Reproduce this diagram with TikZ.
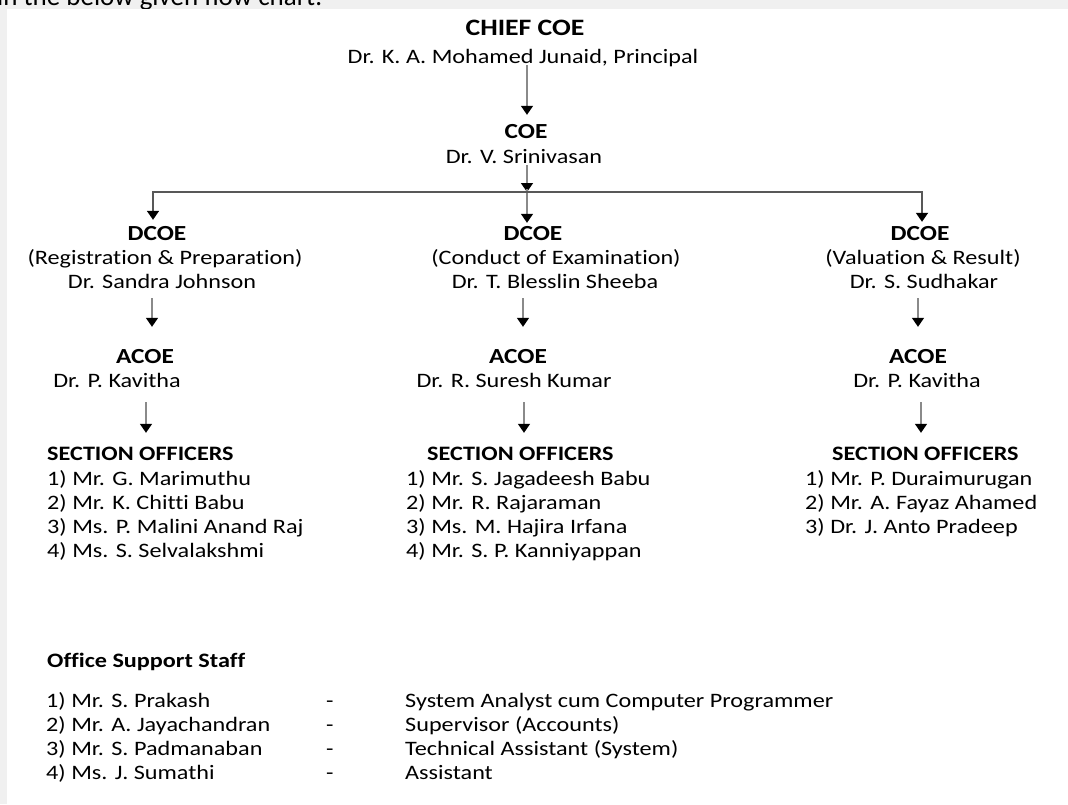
\documentclass[tikz,border=0pt]{standalone}
\usepackage{fontspec}
\setmainfont{Carlito}[FakeStretch=1.18, Ligatures=NoCommon]
\newfontfamily\pagefont{Carlito}[Ligatures=NoCommon]
\usetikzlibrary{arrows.meta}
\definecolor{pagegray}{HTML}{F0F0F0}
\definecolor{shaftgray}{HTML}{8A8A8A}
\definecolor{bargray}{HTML}{585858}
\tikzset{
  rank/.style={font=\bfseries\fontsize{21.5}{25}\selectfont, anchor=base, inner sep=0pt, text height=15pt, text depth=5pt},
  person/.style={font=\fontsize{20.5}{24}\selectfont, anchor=base, inner sep=0pt, text height=15pt, text depth=5pt},
  entry/.style={font=\fontsize{20.5}{24}\selectfont, anchor=base west, inner sep=0pt, text height=15pt, text depth=5pt},
  arr/.style={shaftgray, line width=1.5pt, -{Triangle[width=12pt,length=9pt,color=black]}},
  bar/.style={bargray, line width=1.8pt, {Triangle[width=12pt,length=9pt,color=black]}-{Triangle[width=12pt,length=9pt,color=black]}},
}
\begin{document}
\begin{tikzpicture}[x=1pt,y=-1pt]
		\clip (0,0) rectangle (1068,804);
		\useasboundingbox (0,0) rectangle (1068,804);
		% page
		\fill[pagegray] (0,0) rectangle (1068,804);
		\node[font=\pagefont\fontsize{27}{30}\selectfont, anchor=base west, inner sep=0pt] (intro) at (-3,5) {in the below given flow chart.};
		\fill[white] (7,9) rectangle (1068,804);
		% top of the chart
		\node[rank, font=\bfseries\fontsize{23.5}{28}\selectfont] (chief) at (525,35) {CHIEF COE};
		\node[person] (chiefname) at (523,63) {Dr. K. A. Mohamed Junaid, Principal};
		\node[rank] (coe) at (526,138) {COE};
		\node[person] (coename) at (524,163) {Dr. V. Srinivasan};
		% DCOE row
		\node[rank] (dcoeL) at (157,240) {DCOE};
		\node[person] (deptL) at (165,264) {(Registration \& Preparation)};
		\node[person] (dcoenameL) at (162,288) {Dr. Sandra Johnson};
		\node[rank] (dcoeM) at (533,240) {DCOE};
		\node[person] (deptM) at (556,264) {(Conduct of Examination)};
		\node[person] (dcoenameM) at (555,288) {Dr. T. Blesslin Sheeba};
		\node[rank] (dcoeR) at (920,240) {DCOE};
		\node[person] (deptR) at (923,264) {(Valuation \& Result)};
		\node[person] (dcoenameR) at (924,288) {Dr. S. Sudhakar};
		% ACOE row
		\node[rank] (acoeL) at (145,363) {ACOE};
		\node[person] (acoenameL) at (117,387) {Dr. P. Kavitha};
		\node[rank] (acoeM) at (518,363) {ACOE};
		\node[person] (acoenameM) at (514,387) {Dr. R. Suresh Kumar};
		\node[rank] (acoeR) at (918,363) {ACOE};
		\node[person] (acoenameR) at (917,387) {Dr. P. Kavitha};
		% section officers
		\node[entry, font=\bfseries\fontsize{20.5}{24}\selectfont] (soL) at (47,460) {SECTION OFFICERS};
		\node[entry, font=\bfseries\fontsize{20.5}{24}\selectfont] (soM) at (427,460) {SECTION OFFICERS};
		\node[entry, font=\bfseries\fontsize{20.5}{24}\selectfont] (soR) at (832,460) {SECTION OFFICERS};
		\foreach \n/\who in {1/{1) Mr. G. Marimuthu}, 2/{2) Mr. K. Chitti Babu}, 3/{3) Ms. P. Malini Anand Raj}, 4/{4) Ms. S. Selvalakshmi}}
			\node[entry] (soL-\n) at (47,{461+24*\n}) {\who};
		\foreach \n/\who in {1/{1) Mr. S. Jagadeesh Babu}, 2/{2) Mr. R. Rajaraman}, 3/{3) Ms. M. Hajira Irfana}, 4/{4) Mr. S. P. Kanniyappan}}
			\node[entry] (soM-\n) at (406,{461+24*\n}) {\who};
		\foreach \n/\who in {1/{1) Mr. P. Duraimurugan}, 2/{2) Mr. A. Fayaz Ahamed}, 3/{3) Dr. J. Anto Pradeep}}
			\node[entry] (soR-\n) at (805,{461+24*\n}) {\who};
		% office support staff
		\node[entry, font=\bfseries\fontsize{20.5}{24}\selectfont] (staff) at (47,667) {Office Support Staff};
		\foreach \n/\who/\job in {1/{1) Mr. S. Prakash}/{System Analyst cum Computer Programmer}, 2/{2) Mr. A. Jayachandran}/{Supervisor (Accounts)}, 3/{3) Mr. S. Padmanaban}/{Technical Assistant (System)}, 4/{4) Ms. J. Sumathi}/{Assistant}}{
			\node[entry] (staff-\n) at (46,{683+24*\n}) {\who};
			\node[entry] (dash-\n) at (326,{683+24*\n}) {-};
			\node[entry] (job-\n) at (405,{683+24*\n}) {\job};
		}
		% connectors
		\coordinate (spine) at (527,0);
		\coordinate (barL) at (153,192);
		\coordinate (barR) at (922,192);
		\coordinate (colL) at (152,0);
		\coordinate (colM) at (523,0);
		\coordinate (colR) at (918,0);
		\coordinate (lowL) at (146,0);
		\coordinate (lowM) at (524,0);
		\coordinate (lowR) at (921,0);
		\draw[arr, shorten <=-3pt, shorten >=8pt] (spine |- chiefname.south) -- (spine |- coe.north);
		\draw[arr, shorten <=-3pt] (spine |- coename.south) -- (spine |- barL);
		\draw[arr, shorten <=-3pt, shorten >=2pt] (spine |- barL) -- (spine |- dcoeM.north);
		\draw[bar, shorten <=5pt, shorten >=3pt] (barL |- dcoeL.north) -- (barL) -- (barR) -- (barR |- dcoeR.north);
		\foreach \c in {L,M,R}
			\draw[arr, shorten <=5pt, shorten >=21pt] (col\c |- dcoename\c.south) -- (col\c |- acoe\c.north);
		\foreach \c in {L,M,R}
			\draw[arr, shorten <=10pt, shorten >=12pt] (low\c |- acoename\c.south) -- (low\c |- so\c.north);
\end{tikzpicture}
\end{document}
